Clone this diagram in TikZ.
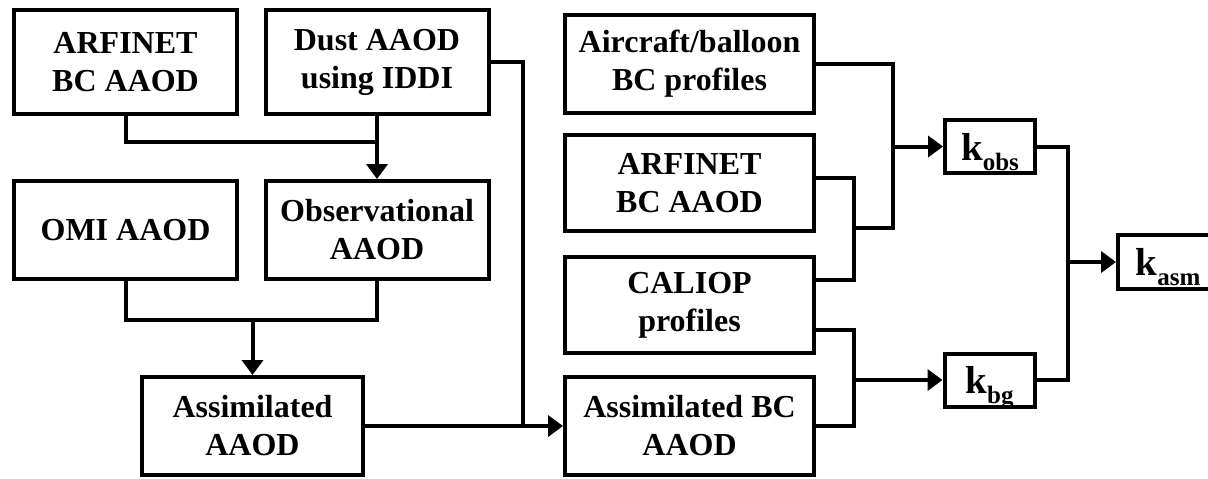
\documentclass[tikz,border=0pt]{standalone}
\usepackage{fontspec}
\setmainfont{Liberation Serif}
\usepackage{tikz}
\usetikzlibrary{calc, positioning, arrows.meta}
\newcommand{\ksub}[1]{{\fontsize{19.5}{20}\selectfont k}\raisebox{-5pt}{\fontsize{12.5}{13}\selectfont #1}}

\begin{document}
\begin{tikzpicture}[x=0.5pt,y=-0.5pt,line width=2pt,>={Triangle[length=7.5pt,width=10.5pt]},
        box/.style={draw, line width=2pt, inner sep=0pt, align=center, font=\fontsize{16}{19}\selectfont\bfseries},
        kbox/.style={draw, line width=2pt, inner sep=0pt, text depth=0pt, font=\bfseries, minimum width=45pt, minimum height=26.5pt}]
        \useasboundingbox (0,0) rectangle (1208,478);
        % left part
        \node[box, minimum width=111.5pt, minimum height=52pt] (arf) at (125.5,62) {ARFINET\\BC AAOD};
        \node[box, minimum width=111.5pt, minimum height=52pt] (dust) at (377,62) {Dust AAOD\\using IDDI};
        \node[box, minimum width=111.5pt, minimum height=49pt] (omi) at (125.5,230) {OMI AAOD};
        \node[box, minimum width=111.5pt, minimum height=49pt] (obs) at (377,230) {Observational\\AAOD};
        \node[box, minimum width=110.5pt, minimum height=49pt] (asm) at (252.5,426) {Assimilated\\AAOD};
        % right part
        \node[box, minimum width=124.5pt, minimum height=49pt] (air) at (689.5,64) {Aircraft/balloon\\BC profiles};
        \node[box, minimum width=124.5pt, minimum height=48pt] (arf2) at (689.5,183) {ARFINET\\BC AAOD};
        \node[box, minimum width=124.5pt, minimum height=48pt] (cal) at (689.5,305) {CALIOP\\profiles};
        \node[box, minimum width=124.5pt, minimum height=49pt] (asmbc) at (689.5,426) {Assimilated BC\\AAOD};
        \node[kbox] (kobs) at (990,146.5) {\ksub{obs}};
        \node[kbox] (kbg) at (989.5,380) {\ksub{bg}};
        \node[kbox, minimum width=50pt, minimum height=27pt] (kasm) at (1168,262) {\ksub{asm}};

        \coordinate (a1) at ($(arf2.east)+(0,-5)$);
        \coordinate (c1) at ($(cal.east)!.5!(cal.north east)$);
        \coordinate (c2) at ($(cal.east)!.5!(cal.south east)$);
        \coordinate (j1) at (377,142);
        \coordinate (j2) at (252.5,320);
        \coordinate (j3) at (523,426);
        \coordinate (j4) at (854,228);
        \coordinate (j5) at (893,146.5);
        \coordinate (j6) at (854,380);
        \coordinate (j7) at (1068,262);

        \draw (arf.south) |- (j1);
        \draw[->] (dust.south) -- (obs.north);
        \draw (omi.south) |- (j2) -| (obs.south);
        \draw[->] (j2) -- (asm.north);
        \draw[->] (asm.east) -- (asmbc.west);
        \draw (dust.east) -| (j3);
        \draw (a1) -| (j4) |- (c1);
        \draw (air.east) -| (j5) |- (j4);
        \draw[->] (j5) -- (kobs.west);
        \draw (c2) -| (j6) |- (asmbc.east);
        \draw[->] (j6) -- (kbg.west);
        \draw (kobs.east) -| (j7) |- (kbg.east);
        \draw[->] (j7) -- (kasm.west);
\end{tikzpicture}
\end{document}
